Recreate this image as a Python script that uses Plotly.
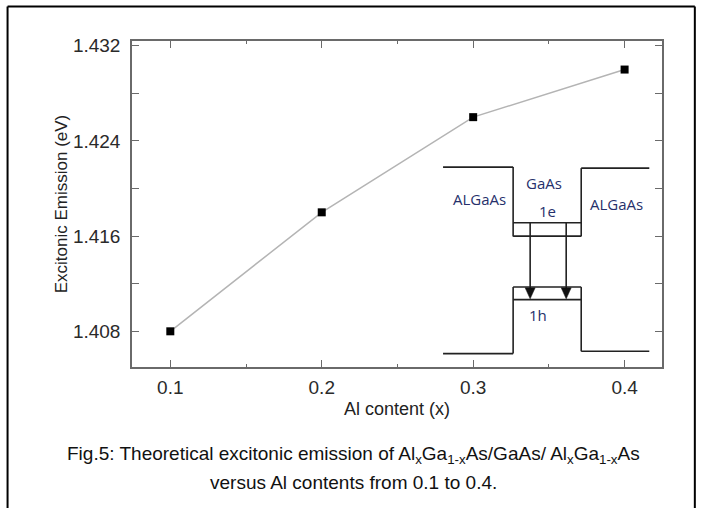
import plotly.graph_objects as go

# ---- data ----
al_content = [0.1, 0.2, 0.3, 0.4]
excitonic_emission = [1.408, 1.418, 1.426, 1.430]
x_tick_vals = [0.1, 0.2, 0.3, 0.4]
x_tick_text = ["0.1", "0.2", "0.3", "0.4"]
y_tick_vals = [1.408, 1.416, 1.424, 1.432]
y_tick_text = ["1.408", "1.416", "1.424", "1.432"]

W, H = 703, 508
L, R, T, B = 132.3, 661.7, 40.5, 366.7


def px(x):
    return (x - L) / (R - L)


def py(y):
    return (B - y) / (B - T)


fig = go.Figure()
fig.add_trace(go.Scatter(
    x=al_content, y=excitonic_emission, mode="lines+markers",
    line=dict(color="#b4b4b4", width=1.5),
    marker=dict(symbol="square", size=8, color="black"),
    showlegend=False, hoverinfo="x+y",
))

shapes = []


def seg(x0, y0, x1, y1, color="#222", width=1.6):
    shapes.append(dict(type="line", xref="paper", yref="paper",
                       x0=px(x0), y0=py(y0), x1=px(x1), y1=py(y1),
                       line=dict(color=color, width=width)))


def tri(xc, ytip, half=5, h=11, color="#111"):
    path = "M {:.5f},{:.5f} L {:.5f},{:.5f} L {:.5f},{:.5f} Z".format(
        px(xc), py(ytip), px(xc - half), py(ytip - h), px(xc + half), py(ytip - h))
    shapes.append(dict(type="path", xref="paper", yref="paper", path=path,
                       fillcolor=color, line=dict(color=color, width=0.5)))


# outer border
seg(8, 6, 694.5, 6, "black", 2)
seg(8, 6, 8, 512, "black", 2)
seg(694.5, 6, 694.5, 512, "black", 2)

# quantum well inset
seg(443, 166.7, 513, 166.7)
seg(513, 166.7, 513, 236)
seg(581, 167.7, 649, 167.7)
seg(581, 167.7, 581, 236)
seg(513, 222.3, 581, 222.3)
seg(513, 235.7, 581, 235.7)
seg(513, 286.7, 581, 286.7)
seg(513, 299.3, 581, 299.3)
seg(513, 286.7, 513, 353.3)
seg(443, 353.3, 513, 353.3)
seg(581, 286.7, 581, 351)
seg(581, 351, 649, 351)
seg(530, 222.3, 530, 290)
seg(566, 222.3, 566, 290)
tri(530, 298.5)
tri(566, 298.5)

annotations = []


def label(text, x, y, size=15, color="#26306b", family="Open Sans, sans-serif"):
    annotations.append(dict(xref="paper", yref="paper", x=px(x), y=py(y),
                            text=text, showarrow=False, xanchor="center",
                            yanchor="middle", font=dict(size=size, color=color,
                                                        family=family)))


label("ALGaAs", 479, 199)
label("GaAs", 544, 183)
label("1e", 547, 211)
label("ALGaAs", 616, 204)
label("1h", 538, 315)

cap_font = "Liberation Sans, Arial, sans-serif"
label("Fig.5: Theoretical excitonic emission of Al<sub>x</sub>Ga<sub>1-x</sub>As/GaAs/ "
      "Al<sub>x</sub>Ga<sub>1-x</sub>As", 354, 455, size=19, color="#111", family=cap_font)
label("versus Al contents from 0.1 to 0.4.", 354, 482, size=19, color="#111", family=cap_font)

axis_common = dict(
    showline=True, linecolor="#6a6a6a", linewidth=1.5, mirror="allticks",
    ticks="inside", ticklen=7, tickwidth=1.2, tickcolor="#6a6a6a",
    showgrid=False, zeroline=False,
    tickfont=dict(family=cap_font, size=19, color="#2a2a2a"),
)

fig.update_layout(
    width=W, height=H,
    margin=dict(l=L, r=W - R, t=T, b=H - B),
    paper_bgcolor="white", plot_bgcolor="white",
    font=dict(family=cap_font, color="#222"),
    shapes=shapes, annotations=annotations,
    xaxis=dict(range=[0.0747, 0.4247], tickvals=x_tick_vals, ticktext=x_tick_text,
               minor=dict(dtick=0.05, tick0=0.05, ticks="inside", ticklen=3,
                          tickcolor="#6a6a6a", tickwidth=1.2),
               ticklabelstandoff=2,
               title=dict(text="Al content (x)", font=dict(size=18, color="#222"),
                          standoff=6),
               **axis_common),
    yaxis=dict(range=[1.405, 1.4324], tickvals=y_tick_vals, ticktext=y_tick_text,
               minor=dict(dtick=0.004, tick0=1.404, ticks="inside", ticklen=7,
                          tickcolor="#6a6a6a", tickwidth=1.2),
               ticklabelstandoff=6,
               title=dict(text="Excitonic Emission (eV)", font=dict(size=17, color="#222"),
                          standoff=1),
               **axis_common),
)

fig.write_html("out.html", config={"displayModeBar": False},
               post_script="document.body.style.margin='0';")
